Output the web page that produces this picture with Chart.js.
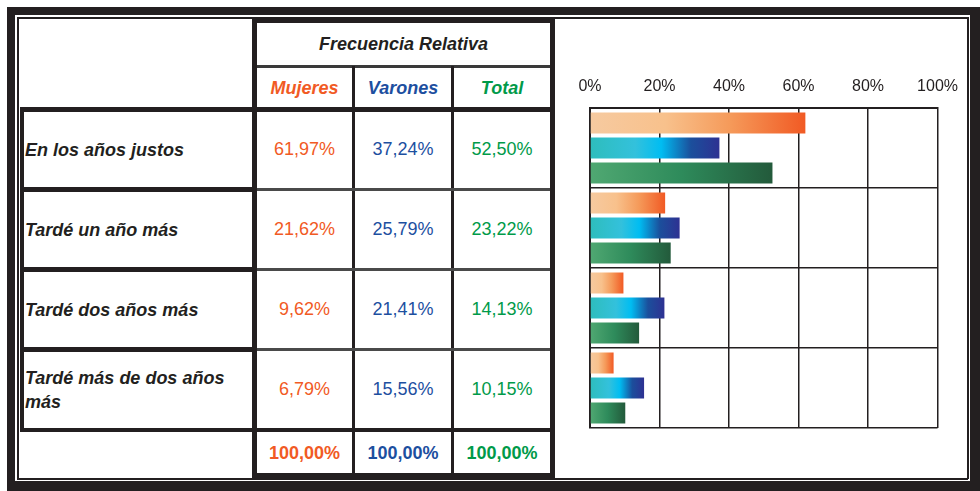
<!DOCTYPE html>
<html>
<head>
<meta charset="utf-8">
<script src="https://cdn.jsdelivr.net/npm/chart.js@4.4.0/dist/chart.umd.min.js"></script>
<style>
  body { margin: 0; background: #fff; font-family: "Liberation Sans", Arial, sans-serif; }
  #wrap { position: relative; width: 980px; height: 491px; overflow: hidden; background: #fff; }
  .ln { position: absolute; background: #231f20; }
  .txt { position: absolute; white-space: nowrap; }
  #cv { position: absolute; left: 560px; top: 20px; }
</style>
</head>
<body>
<div id="wrap">
  <canvas id="cv" width="410" height="450"></canvas>
</div>
<script>
// datos
var categorias = ['En los años justos', 'Tardé un año más', 'Tardé dos años más', 'Tardé más de dos años más'];
var mujeres = [61.97, 21.62, 9.62, 6.79];
var varones = [37.24, 25.79, 21.41, 15.56];
var total = [52.50, 23.22, 14.13, 10.15];
var totales = [100, 100, 100];
var columnas = ['Mujeres', 'Varones', 'Total'];
var ticksX = [0, 20, 40, 60, 80, 100];

var colores = ['#f15a24', '#1d4f9f', '#009a49'];
var wrap = document.getElementById('wrap');

function linea(x, y, w, h, c) {
  var d = document.createElement('div');
  d.className = 'ln';
  d.style.left = x + 'px'; d.style.top = y + 'px';
  d.style.width = w + 'px'; d.style.height = h + 'px';
  if (c) d.style.background = c;
  wrap.appendChild(d);
}
function texto(s, x, y, w, h, css) {
  var d = document.createElement('div');
  d.className = 'txt';
  d.style.left = x + 'px'; d.style.top = y + 'px';
  d.style.width = w + 'px'; d.style.height = h + 'px';
  d.style.display = 'flex'; d.style.alignItems = 'center';
  d.style.cssText += css;
  d.textContent = s;
  wrap.appendChild(d);
}
function fmt(v) { return v.toFixed(2).replace('.', ',') + '%'; }

// marco exterior
linea(7, 7, 973, 8);
linea(7, 7, 8, 484);
linea(970, 7, 10, 484);
linea(12, 481, 968, 10);
linea(17, 17, 951, 1.5);
linea(17, 17, 1.5, 462);
linea(967, 17, 1.5, 462);
linea(17, 478, 951, 1.5);

// cabecera
linea(252, 19, 303, 4);
linea(252, 19, 5, 91);
linea(550, 19, 5, 91);
linea(257, 65, 293, 3, '#3a3a3a');
linea(352, 66, 3, 44);
linea(451, 66, 3, 44);

// bloque de datos
linea(20, 107, 535, 5);
linea(20, 107, 4, 325);
linea(252, 107, 5, 325);
linea(550, 107, 5, 325);
linea(20, 428, 535, 4);
linea(352, 107, 3, 325);
linea(451, 107, 3, 325);
[187, 267, 347].forEach(function (y) {
  linea(20, y, 237, 5);
  linea(257, y + 1, 293, 3, '#4a4a4a');
});

// fila de totales
linea(252, 428, 5, 50);
linea(352, 428, 3, 48);
linea(451, 428, 3, 48);
linea(550, 428, 5, 50);
linea(252, 473, 303, 5);

var colX = [257, 355, 454];
var colW = [95, 96, 96];

texto('Frecuencia Relativa', 257, 23, 293, 42,
  'justify-content:center;font-weight:bold;font-style:italic;font-size:18px;color:#231f20;');
columnas.forEach(function (c, i) {
  texto(c, colX[i], 68, colW[i], 40,
    'justify-content:center;font-weight:bold;font-style:italic;font-size:18px;color:' + colores[i] + ';');
});

var series = [mujeres, varones, total];
categorias.forEach(function (cat, r) {
  var y = 112 + r * 80;
  texto(cat, 25, y, 226, 75,
    'white-space:normal;line-height:24px;font-weight:bold;font-style:italic;font-size:18px;color:#231f20;');
  series.forEach(function (s, i) {
    texto(fmt(s[r]), colX[i], y, colW[i], 75,
      'justify-content:center;font-size:18px;color:' + colores[i] + ';');
  });
});
totales.forEach(function (v, i) {
  texto(fmt(v), colX[i], 432, colW[i], 42,
    'justify-content:center;font-weight:bold;font-size:18px;color:' + colores[i] + ';');
});

// degradados de las barras
var paradas = [
  [[0, '#f6caa0'], [0.35, '#f8c18c'], [0.65, '#f59a5a'], [1, '#f15a24']],
  [[0, '#2ebdbc'], [0.35, '#33c1dc'], [0.55, '#00bdf2'], [0.78, '#1b4f9c'], [1, '#2e3192']],
  [[0, '#50a872'], [0.5, '#2e8b5b'], [1, '#235a3b']]
];
function degradado(i) {
  return function (ctx) {
    var chart = ctx.chart;
    if (!chart.chartArea || ctx.raw == null) return paradas[i][paradas[i].length - 1][1];
    var x0 = chart.scales.x.getPixelForValue(0);
    var x1 = chart.scales.x.getPixelForValue(ctx.raw);
    var g = chart.ctx.createLinearGradient(x0, 0, x1, 0);
    paradas[i].forEach(function (p) { g.addColorStop(p[0], p[1]); });
    return g;
  };
}

var ctx = document.getElementById('cv');
var grafico = new Chart(ctx, {
  type: 'bar',
  data: {
    labels: categorias,
    datasets: [
      { label: 'Mujeres', data: mujeres, backgroundColor: degradado(0) },
      { label: 'Varones', data: varones, backgroundColor: degradado(1) },
      { label: 'Total', data: total, backgroundColor: degradado(2) }
    ]
  },
  options: {
    indexAxis: 'y',
    responsive: false,
    animation: false,
    categoryPercentage: 0.9375,
    barPercentage: 0.84,
    layout: { padding: { top: 48, left: 30, right: 22, bottom: 42 } },
    plugins: { legend: { display: false }, tooltip: { enabled: false } },
    scales: {
      x: {
        position: 'top',
        min: 0,
        max: 100,
        afterBuildTicks: function (s) { s.ticks = ticksX.map(function (v) { return { value: v }; }); },
        afterFit: function (s) { s.height = 40; },
        ticks: {
          padding: 12,
          color: '#231f20',
          font: { size: 16, family: '"Liberation Sans", Arial, sans-serif' },
          callback: function (v) { return v + '%'; }
        },
        grid: { color: '#231f20', lineWidth: 1.5, drawTicks: false },
        border: { color: '#231f20', width: 2 }
      },
      y: {
        afterFit: function (s) { s.width = 0; },
        ticks: { display: false },
        grid: { color: '#231f20', lineWidth: 1.5, drawTicks: false },
        border: { color: '#231f20', width: 2 }
      }
    }
  }
});
</script>
</body>
</html>
